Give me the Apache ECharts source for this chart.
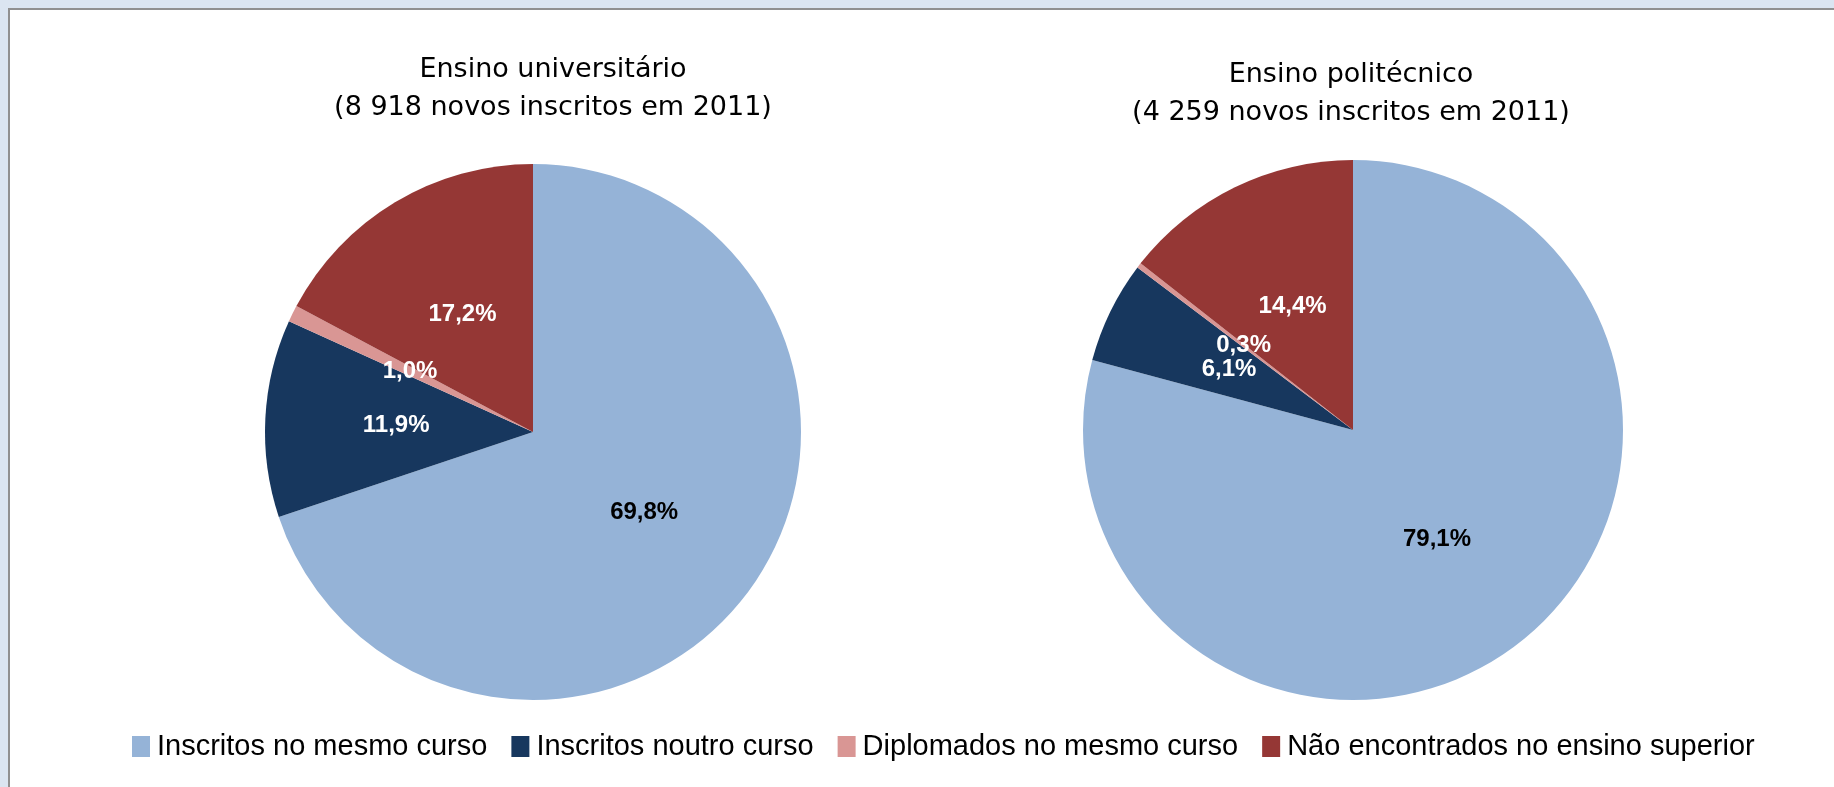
<!DOCTYPE html>
<html>
<head>
<meta charset="utf-8">
<script src="https://cdn.jsdelivr.net/npm/echarts@6/dist/echarts.min.js"></script>
<style>
	html, body { margin: 0; padding: 0; background: #dbe5f1; }
	#main { width: 1834px; height: 787px; }
</style>
</head>
<body>
<div id="main"></div>
<script>
// categorias (legenda)
const categorias = ['Inscritos no mesmo curso', 'Inscritos noutro curso', 'Diplomados no mesmo curso', 'Não encontrados no ensino superior']
const cores = ['#95b3d7', '#17375e', '#d99694', '#953735']
// percentagens
const universitario = [69.8, 11.9, 1.0, 17.2]
const politecnico = [79.1, 6.1, 0.3, 14.4]
const titulos = ['Ensino universitário\n(8 918 novos inscritos em 2011)', 'Ensino politécnico\n(4 259 novos inscritos em 2011)']

const main = document.getElementById('main')
const myChart = echarts.init(main)

const fmt = (p) => p.value.toFixed(1).replace('.', ',') + '%'

const toData = (vals) => vals.map((v, i) => ({
	name: categorias[i],
	value: v,
	itemStyle: { color: cores[i] },
	label: { color: i === 0 ? '#000' : '#fff' }
}))

const pieSerie = (vals, center, radius) => ({
	type: 'pie',
	center: center,
	radius: radius,
	startAngle: 90,
	clockwise: true,
	avoidLabelOverlap: false,
	minShowLabelAngle: 0,
	emphasis: { disabled: true },
	itemStyle: { borderWidth: 0 },
	label: {
		show: true,
		position: 'inside',
		formatter: fmt,
		fontFamily: 'Liberation Sans',
		fontWeight: 'bold',
		fontSize: 24
	},
	labelLayout: { hideOverlap: false },
	labelLine: { show: false },
	data: toData(vals)
})

const tituloEstilo = { fontFamily: 'DejaVu Sans', fontSize: 27, fontWeight: 'normal', color: '#000', lineHeight: 38 }

const option = {
	animation: false,
	backgroundColor: '#dbe5f1',
	graphic: [
		{
			type: 'rect',
			z: -10,
			shape: { x: 9, y: 9, width: 1840, height: 800 },
			style: { fill: '#ffffff', stroke: '#909090', lineWidth: 2 }
		}
	],
	title: [
		{
			text: titulos[0],
			left: 548,
			top: 46,
			textAlign: 'center',
			textStyle: tituloEstilo
		},
		{
			text: titulos[1],
			left: 1346,
			top: 51,
			textAlign: 'center',
			textStyle: tituloEstilo
		}
	],
	legend: {
		data: categorias,
		left: 127,
		top: 727,
		itemWidth: 18,
		itemHeight: 21,
		itemGap: 24,
		icon: 'rect',
		selectedMode: false,
		textStyle: { fontFamily: 'Liberation Sans', fontSize: 29, color: '#000', padding: [0, 0, 0, 2] }
	},
	series: [
		pieSerie(universitario, [533, 432], 268),
		pieSerie(politecnico, [1353, 430], 270)
	]
}

myChart.setOption(option)
window.onresize = () => {
	myChart.resize()
}
</script>
</body>
</html>
